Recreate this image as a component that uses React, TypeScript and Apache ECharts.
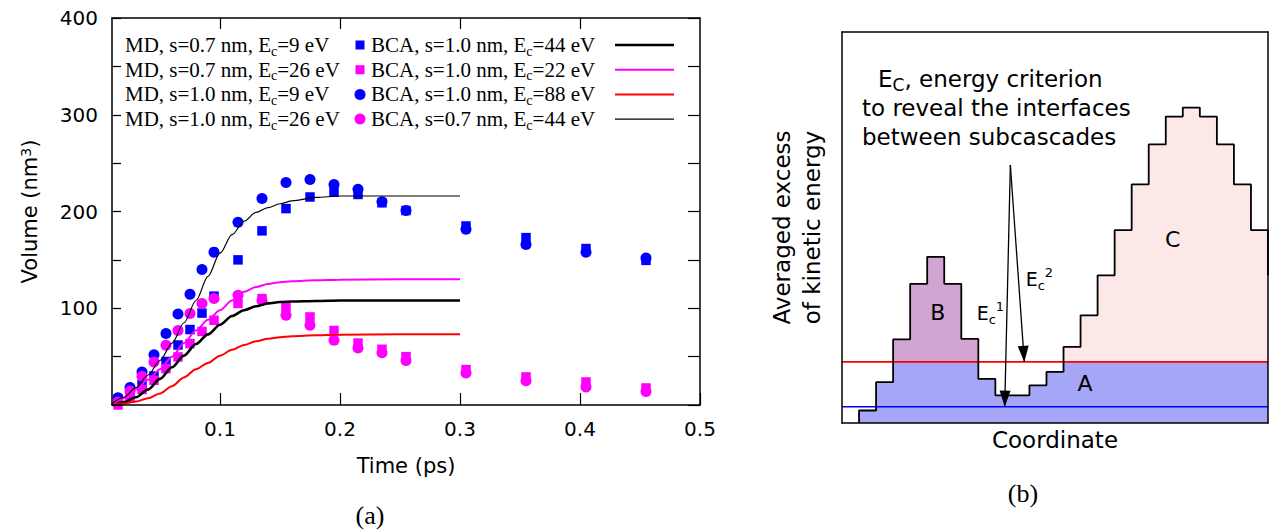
import React, { useEffect, useRef } from 'react';
import * as echarts from 'echarts';

// ---------- Panel (a): volume vs time ----------
const pointTimes = [0.015, 0.025, 0.035, 0.045, 0.055, 0.065, 0.075, 0.085, 0.095, 0.115, 0.135, 0.155, 0.175, 0.195, 0.215, 0.235, 0.255, 0.305, 0.355, 0.405, 0.455];
const mdS07Ec9 = [6, 12, 21, 30, 45, 62, 78, 95, 112.5, 150, 180, 203, 215, 220, 217.6, 209, 201, 185, 173, 161.7, 149.5]; // blue squares
const mdS07Ec26 = [0, 7, 16, 25.6, 37.6, 49.7, 63.5, 76, 87.6, 105, 110, 101, 91, 77, 64, 57.6, 50, 36.6, 29, 23.8, 17.6]; // magenta squares
const mdS10Ec9 = [7.6, 18, 34, 52, 74, 94, 114.5, 140, 158, 189, 213.5, 230, 233, 228, 223, 210, 201, 181.6, 166, 158, 152]; // blue circles
const mdS10Ec26 = [3, 14.5, 29.7, 44.5, 61.8, 77, 94.5, 105, 110, 113.5, 108, 92.8, 82.5, 67, 59, 54, 46, 33, 25, 18.6, 14]; // magenta circles

const lineTimes = [0.01, 0.02, 0.03, 0.04, 0.05, 0.06, 0.07, 0.08, 0.09, 0.10, 0.11, 0.12, 0.13, 0.14, 0.15, 0.16, 0.18, 0.20, 0.25, 0.30];
const bcaS10Ec44 = [0, 3, 8, 16, 27, 39, 51, 63, 73, 83, 92, 98, 102, 105, 106.5, 107, 107.5, 108, 108, 108]; // thick black
const bcaS10Ec22 = [0, 7, 16, 26, 37, 50, 64, 77, 88, 98, 108, 117, 122, 125, 127, 128, 129, 129.5, 130, 130]; // magenta line
const bcaS10Ec88 = [0, 1.5, 3.5, 7, 12, 19.5, 28.5, 37, 43.5, 51, 57, 62, 66, 68.5, 70, 71, 72, 72.5, 73, 73]; // red line
const bcaS07Ec44 = [1.5, 8, 18, 31, 46, 64, 85, 108, 133, 157, 176, 190, 199, 204, 208, 211, 214.5, 216, 216, 216]; // thin black

const xTickValues = [0.1, 0.2, 0.3, 0.4, 0.5];
const xTopTickValues = [0.1, 0.2, 0.3, 0.4];
const yLabelValues = [100, 200, 300, 400];

const mdNames = ['MD, s=0.7 nm, E_c=9 eV', 'MD, s=0.7 nm, E_c=26 eV', 'MD, s=1.0 nm, E_c=9 eV', 'MD, s=1.0 nm, E_c=26 eV'];
const bcaNames = ['BCA, s=1.0 nm, E_c=44 eV', 'BCA, s=1.0 nm, E_c=22 eV', 'BCA, s=1.0 nm, E_c=88 eV', 'BCA, s=0.7 nm, E_c=44 eV'];

// ---------- Panel (b): schematic histogram ----------
const binHeights = [0, 12.5, 40.8, 83.5, 139, 166, 139, 84, 44, 27.6, 27.6, 37.6, 51, 76, 107.5, 147.5, 192.7, 238.3, 278.2, 306, 315, 306, 278.2, 238.3, 192.7];
const nextBinHeight = 147.5;
const binsB = [3, 4, 5, 6, 7];
const binsC = [13, 14, 15, 16, 17, 18, 19, 20, 21, 22, 23, 24];
const criterionLow = 16.3; // E_c^1
const criterionHigh = 61; // E_c^2
const panelBMax = 390.5;
const arrowStart = [9.88, 257.6];
const arrowTip1 = [9.55, criterionLow];
const arrowTip2 = [10.7, criterionHigh];

const SANS = 'DejaVu Sans';
const SERIF = 'Liberation Serif';

function richName(name: string) {
  const [a, b] = name.split('E_c');
  return `{n|${a}E}{sub|c}{n|${b}}`;
}

function binPolyline(values: number[]) {
  const pts: number[][] = [];
  values.forEach((v, i) => {
    pts.push([i, v], [i + 1, v]);
  });
  return pts;
}

function outlinePoints() {
  const pts: number[][] = [[1, 0]];
  for (let i = 1; i < binHeights.length; i++) {
    pts.push([i, binHeights[i]], [i + 1, binHeights[i]]);
  }
  pts.push([binHeights.length, nextBinHeight]);
  return pts;
}

const legendRich = {
  n: { fontFamily: SERIF, fontSize: 21, lineHeight: 26, verticalAlign: 'middle', color: '#000' },
  sub: { fontFamily: SERIF, fontSize: 14, lineHeight: 14, verticalAlign: 'bottom', color: '#000' },
};

export default function App() {
  const ref = useRef<HTMLDivElement>(null);

  useEffect(() => {
    if (!ref.current) return;
    const chart = echarts.init(ref.current, undefined, { renderer: 'svg' });

    const axisLineStyle = { color: '#000', width: 1.5 };
    const tickStyle = { color: '#000', width: 1.2 };

    const mdColors = ['#0000ff', '#ff00ff', '#0000ff', '#ff00ff'];
    const mdSymbols = ['rect', 'rect', 'circle', 'circle'];
    const mdData = [mdS07Ec9, mdS07Ec26, mdS10Ec9, mdS10Ec26];
    const bcaData = [bcaS10Ec44, bcaS10Ec22, bcaS10Ec88, bcaS07Ec44];
    const bcaColors = ['#000000', '#ff00ff', '#ff0000', '#000000'];
    const bcaWidths = [2.6, 2, 2, 1.2];

    const scatterSeries = mdData.map((vals, k) => ({
      name: mdNames[k],
      type: 'scatter',
      xAxisIndex: 0,
      yAxisIndex: 0,
      symbol: mdSymbols[k],
      symbolSize: mdSymbols[k] === 'rect' ? 9.5 : 11,
      itemStyle: { color: mdColors[k], opacity: 1 },
      data: pointTimes.map((t, i) => [t, vals[i]]),
      z: 2,
    }));

    const lineSeries = bcaData.map((vals, k) => ({
      name: bcaNames[k],
      type: 'line',
      xAxisIndex: 0,
      yAxisIndex: 0,
      symbol: 'none',
      smooth: 0.3,
      smoothMonotone: 'x',
      lineStyle: { color: bcaColors[k], width: bcaWidths[k] },
      data: lineTimes.map((t, i) => [t, vals[i]]),
      z: 3,
    }));

    const fillSeries = (name: string, values: number[], color: string, z: number) => ({
      name,
      type: 'line',
      xAxisIndex: 2,
      yAxisIndex: 2,
      symbol: 'none',
      lineStyle: { width: 0, opacity: 0 },
      areaStyle: { color, opacity: 1, origin: 'start' },
      data: binPolyline(values),
      z,
      silent: true,
    });

    const pinkVals = binHeights.map((h, i) => (binsC.includes(i) ? h : 0));
    const purpleVals = binHeights.map((h, i) => (binsB.includes(i) ? h : 0));
    const blueVals = binHeights.map((h) => Math.min(h, criterionHigh));

    const legendGraphics: any[] = [];
    const rowY0 = 45;
    const rowStep = 24.7;
    mdNames.forEach((name, k) => {
      const y = rowY0 + k * rowStep;
      legendGraphics.push({
        type: 'text',
        x: 125,
        y,
        style: { text: richName(name), rich: legendRich, align: 'left', verticalAlign: 'middle' },
      });
      if (mdSymbols[k] === 'rect') {
        legendGraphics.push({ type: 'rect', shape: { x: 355.5, y: y - 4.5, width: 9, height: 9 }, style: { fill: mdColors[k] } });
      } else {
        legendGraphics.push({ type: 'circle', shape: { cx: 360, cy: y, r: 5.5 }, style: { fill: mdColors[k] } });
      }
      legendGraphics.push({
        type: 'text',
        x: 371,
        y,
        style: { text: richName(bcaNames[k]), rich: legendRich, align: 'left', verticalAlign: 'middle' },
      });
      legendGraphics.push({
        type: 'line',
        shape: { x1: 615, y1: y, x2: 674, y2: y },
        style: { stroke: bcaColors[k], lineWidth: bcaWidths[k] },
      });
    });

    const option: any = {
      animation: false,
      textStyle: { fontFamily: SANS },
      grid: [
        { left: 112, top: 18, width: 588, height: 387 },
        { left: 842, top: 32, width: 426, height: 391 },
      ],
      xAxis: [
        {
          gridIndex: 0, type: 'value', min: 0.01, max: 0.5, position: 'bottom',
          axisLine: { show: true, onZero: false, lineStyle: axisLineStyle },
          axisTick: { show: true, inside: true, length: 12, customValues: xTickValues, lineStyle: tickStyle },
          axisLabel: { customValues: xTickValues, color: '#000', fontSize: 20, margin: 14, fontFamily: SANS, formatter: (v: number) => v.toFixed(1) },
          splitLine: { show: false },
          name: 'Time (ps)', nameLocation: 'middle', nameGap: 50,
          nameTextStyle: { color: '#000', fontSize: 21, fontFamily: SANS },
          z: 5,
        },
        {
          gridIndex: 0, type: 'value', min: 0.01, max: 0.5, position: 'top',
          axisLine: { show: true, onZero: false, lineStyle: axisLineStyle },
          axisTick: { show: true, inside: true, length: 11, customValues: xTopTickValues, lineStyle: tickStyle },
          axisLabel: { show: false },
          splitLine: { show: false },
          z: 5,
        },
        {
          gridIndex: 1, type: 'value', min: 0, max: binHeights.length, position: 'bottom',
          axisLine: { show: true, onZero: false, lineStyle: axisLineStyle },
          axisTick: { show: false }, axisLabel: { show: false }, splitLine: { show: false },
          name: 'Coordinate', nameLocation: 'middle', nameGap: 5,
          nameTextStyle: { color: '#000', fontSize: 23, fontFamily: SANS, verticalAlign: 'top' },
          z: 5,
        },
        {
          gridIndex: 1, type: 'value', min: 0, max: binHeights.length, position: 'top',
          axisLine: { show: true, onZero: false, lineStyle: axisLineStyle },
          axisTick: { show: false }, axisLabel: { show: false }, splitLine: { show: false },
          z: 5,
        },
      ],
      yAxis: [
        {
          gridIndex: 0, type: 'value', min: 0, max: 400, interval: 50, position: 'left',
          axisLine: { show: true, onZero: false, lineStyle: axisLineStyle },
          axisTick: { show: true, inside: true, length: 9, lineStyle: tickStyle },
          axisLabel: { customValues: yLabelValues, color: '#000', fontSize: 20, margin: 14, fontFamily: SANS },
          splitLine: { show: false },
          name: 'Volume (nm{sup|3})', nameLocation: 'middle', nameGap: 72, nameRotate: 90,
          nameTextStyle: {
            color: '#000', fontSize: 21, fontFamily: SANS,
            rich: { sup: { fontSize: 14, fontFamily: SANS, color: '#000', verticalAlign: 'top', lineHeight: 14 } },
          },
          z: 5,
        },
        {
          gridIndex: 0, type: 'value', min: 0, max: 400, interval: 50, position: 'right',
          axisLine: { show: true, onZero: false, lineStyle: axisLineStyle },
          axisTick: { show: true, inside: true, length: 12, lineStyle: tickStyle },
          axisLabel: { show: false }, splitLine: { show: false },
          z: 5,
        },
        {
          gridIndex: 1, type: 'value', min: 0, max: panelBMax, position: 'left',
          axisLine: { show: true, onZero: false, lineStyle: axisLineStyle },
          axisTick: { show: false }, axisLabel: { show: false }, splitLine: { show: false },
          name: 'Averaged excess\nof kinetic energy', nameLocation: 'middle', nameGap: 15, nameRotate: 90,
          nameTextStyle: { color: '#000', fontSize: 23, fontFamily: SANS, lineHeight: 30 },
          z: 5,
        },
        {
          gridIndex: 1, type: 'value', min: 0, max: panelBMax, position: 'right',
          axisLine: { show: true, onZero: false, lineStyle: axisLineStyle },
          axisTick: { show: false }, axisLabel: { show: false }, splitLine: { show: false },
          z: 5,
        },
      ],
      series: [
        ...scatterSeries,
        ...lineSeries,
        fillSeries('C', pinkVals, '#fde8e8', 1),
        fillSeries('B', purpleVals, '#d2a4d2', 1),
        fillSeries('A', blueVals, '#a6a6f8', 2),
        {
          name: 'E_c^2 level', type: 'line', xAxisIndex: 2, yAxisIndex: 2, symbol: 'none', silent: true,
          lineStyle: { color: '#ff0000', width: 1.6 },
          data: [[0, criterionHigh], [binHeights.length, criterionHigh]], z: 4,
        },
        {
          name: 'E_c^1 level', type: 'line', xAxisIndex: 2, yAxisIndex: 2, symbol: 'none', silent: true,
          lineStyle: { color: '#0000ff', width: 1.6 },
          data: [[0, criterionLow], [binHeights.length, criterionLow]], z: 4,
        },
        {
          name: 'outline', type: 'line', xAxisIndex: 2, yAxisIndex: 2, symbol: 'none', silent: true,
          lineStyle: { color: '#000', width: 1.8 },
          data: outlinePoints(), z: 5,
        },
        {
          name: 'arrows', type: 'line', xAxisIndex: 2, yAxisIndex: 2, symbol: 'none', silent: true,
          data: [],
          z: 6,
          markLine: {
            silent: true,
            symbol: ['none', 'triangle'],
            symbolSize: [11, 16],
            symbolOffset: [[0, 0], [0, 8]],
            label: { show: false },
            lineStyle: { color: '#000', width: 1.3, type: 'solid' },
            itemStyle: { color: '#000' },
            emphasis: { disabled: true },
            data: [
              [{ coord: arrowStart }, { coord: arrowTip1 }],
              [{ coord: arrowStart }, { coord: arrowTip2 }],
            ],
          },
        },
      ],
      graphic: [
        ...legendGraphics,
        { type: 'text', x: 370, y: 515, style: { text: '(a)', fontFamily: SERIF, fontSize: 26, fill: '#000', align: 'center', verticalAlign: 'middle' } },
        { type: 'text', x: 1023, y: 493, style: { text: '(b)', fontFamily: SERIF, fontSize: 26, fill: '#000', align: 'center', verticalAlign: 'middle' } },
        {
          type: 'text', x: 878, y: 79.4, z: 10,
          style: {
            text: '{n|E}{s|C}{n|, energy criterion}', align: 'left', verticalAlign: 'middle',
            rich: {
              n: { fontFamily: SANS, fontSize: 23, lineHeight: 28, verticalAlign: 'middle', color: '#000' },
              s: { fontFamily: SANS, fontSize: 17, lineHeight: 17, verticalAlign: 'bottom', color: '#000' },
            },
          },
        },
        { type: 'text', x: 862, y: 108.2, z: 10, style: { text: 'to reveal the interfaces', fontFamily: SANS, fontSize: 23, fill: '#000', align: 'left', verticalAlign: 'middle' } },
        { type: 'text', x: 862, y: 137, z: 10, style: { text: 'between subcascades', fontFamily: SANS, fontSize: 23, fill: '#000', align: 'left', verticalAlign: 'middle' } },
        { type: 'text', x: 937.7, y: 312.7, z: 10, style: { text: 'B', fontFamily: SANS, fontSize: 22, fill: '#000', align: 'center', verticalAlign: 'middle' } },
        { type: 'text', x: 1085, y: 383.3, z: 10, style: { text: 'A', fontFamily: SANS, fontSize: 22, fill: '#000', align: 'center', verticalAlign: 'middle' } },
        { type: 'text', x: 1172.7, y: 239.4, z: 10, style: { text: 'C', fontFamily: SANS, fontSize: 22, fill: '#000', align: 'center', verticalAlign: 'middle' } },
        {
          type: 'text', x: 976.7, y: 312.7, z: 10,
          style: {
            text: '{n|E}{sub|c}{sup|1}', align: 'left', verticalAlign: 'middle',
            rich: {
              n: { fontFamily: SANS, fontSize: 19, lineHeight: 26, verticalAlign: 'middle', color: '#000' },
              sub: { fontFamily: SANS, fontSize: 13, lineHeight: 13, verticalAlign: 'bottom', color: '#000' },
              sup: { fontFamily: SANS, fontSize: 13, lineHeight: 13, verticalAlign: 'top', color: '#000' },
            },
          },
        },
        {
          type: 'text', x: 1025.7, y: 279.3, z: 10,
          style: {
            text: '{n|E}{sub|c}{sup|2}', align: 'left', verticalAlign: 'middle',
            rich: {
              n: { fontFamily: SANS, fontSize: 19, lineHeight: 26, verticalAlign: 'middle', color: '#000' },
              sub: { fontFamily: SANS, fontSize: 13, lineHeight: 13, verticalAlign: 'bottom', color: '#000' },
              sup: { fontFamily: SANS, fontSize: 13, lineHeight: 13, verticalAlign: 'top', color: '#000' },
            },
          },
        },
      ],
    };

    chart.setOption(option);
    return () => chart.dispose();
  }, []);

  return <div ref={ref} style={{ position: 'absolute', left: 0, top: 0, width: 1274, height: 530, background: '#fff' }} />;
}
